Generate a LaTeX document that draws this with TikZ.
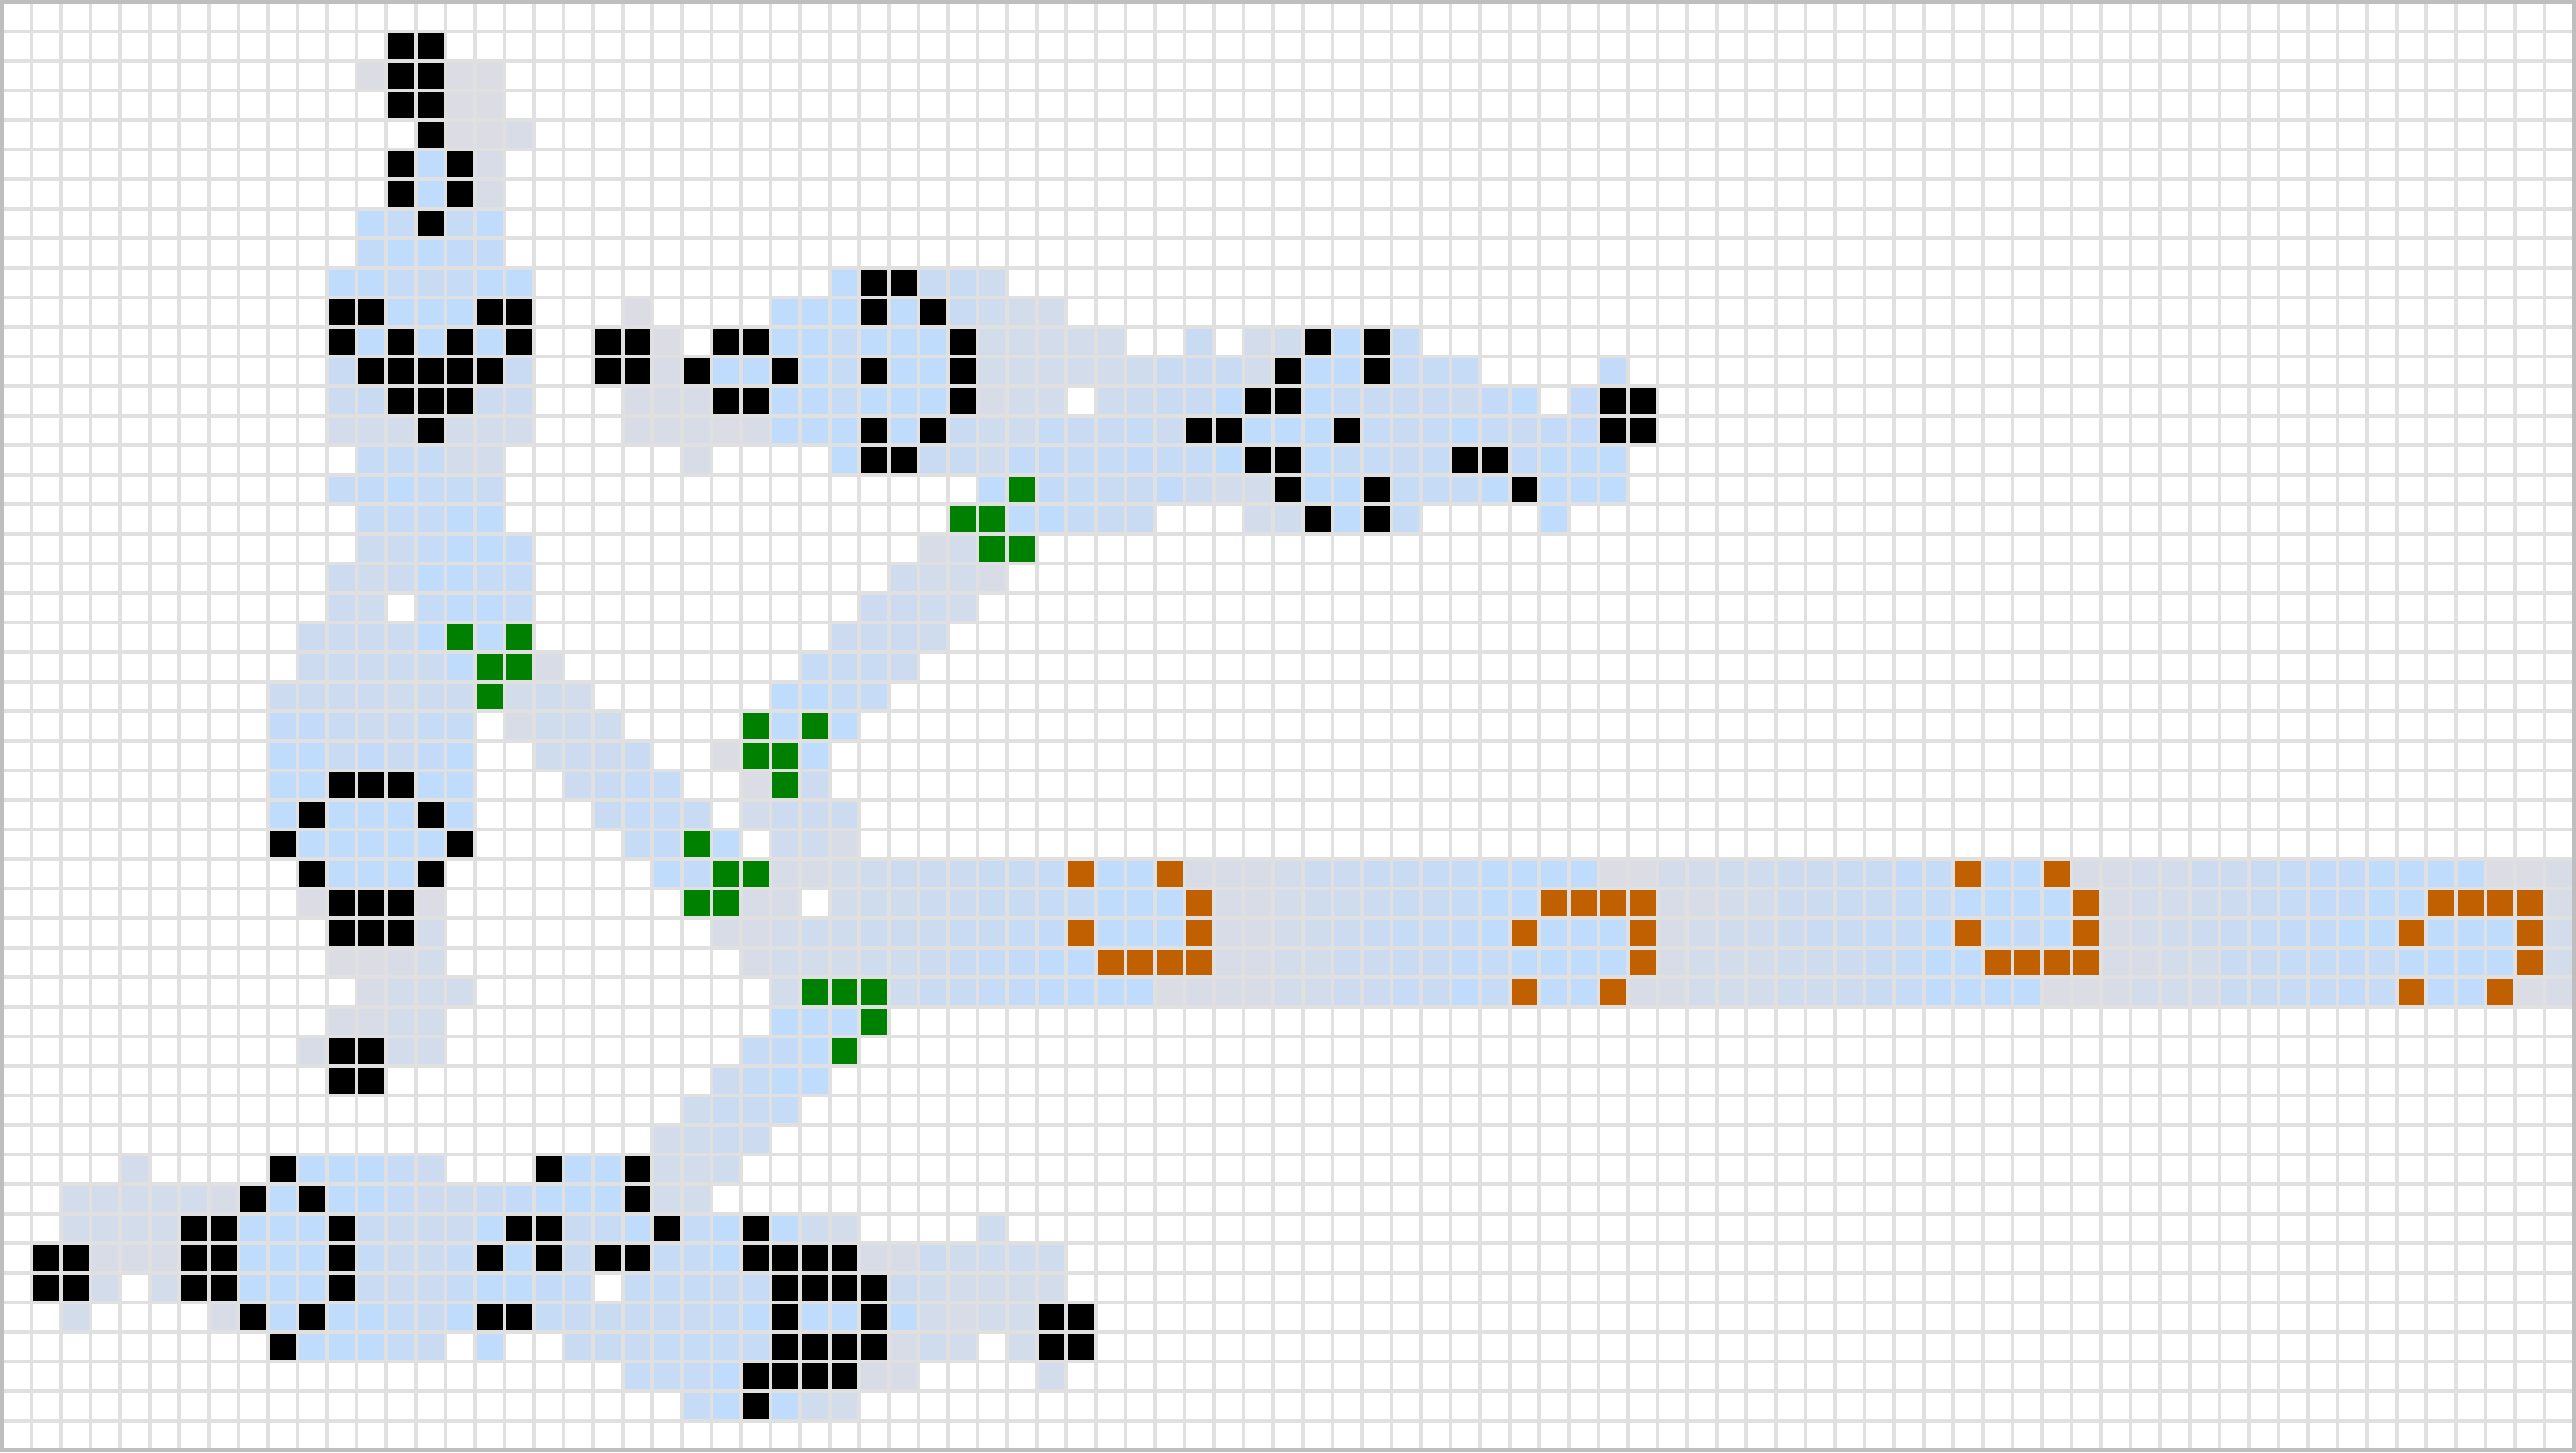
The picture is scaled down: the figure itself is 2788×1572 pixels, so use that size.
\documentclass[tikz,border=0pt]{standalone}
\definecolor{heatA}{HTML}{C0DCFC}
\definecolor{heatB}{HTML}{C3DBF9}
\definecolor{heatC}{HTML}{C6DBF6}
\definecolor{heatD}{HTML}{C9DBF3}
\definecolor{heatE}{HTML}{CCDBF0}
\definecolor{heatF}{HTML}{CFDCED}
\definecolor{heatG}{HTML}{D3DCEA}
\definecolor{heatH}{HTML}{D7DCE7}
\definecolor{heatI}{HTML}{DBDCE4}
\definecolor{gridgrey}{HTML}{E0E0E0}
\definecolor{edgegrey}{HTML}{BEBEBE}
\definecolor{cellgreen}{HTML}{008000}
\definecolor{cellorange}{HTML}{C06000}
\tikzset{
  cell1/.style={fill=heatA}, cell2/.style={fill=heatB}, cell3/.style={fill=heatC},
  cell4/.style={fill=heatD}, cell5/.style={fill=heatE}, cell6/.style={fill=heatF},
  cell7/.style={fill=heatG}, cell8/.style={fill=heatH}, cell9/.style={fill=heatI},
  cellK/.style={fill=black}, cellG/.style={fill=cellgreen}, cellO/.style={fill=cellorange},
  gridline/.style={draw=gridgrey, line width=4pt},
  gridedge/.style={draw=edgegrey, line width=4pt}
}
\newcount\cellcol
\def\PutCell#1{\if.#1\else
  \edef\px{\the\numexpr 4+32*\cellcol\relax}%
  \edef\py{\the\numexpr 1540-32*\cellrow\relax}%
  \fill[cell#1] (\px pt,\py pt) rectangle +(28pt,28pt);\fi}
\def\ScanCells#1{\ifx#1\relax\else\PutCell{#1}\advance\cellcol by 1 \expandafter\ScanCells\fi}
\def\R#1#2#3{\def\cellrow{#1}\cellcol=#2\relax\ScanCells#3\relax}
\begin{document}
\begin{tikzpicture}[x=1pt,y=1pt]
\useasboundingbox (0,0) rectangle (2788,1572);
\fill[white] (0,0) rectangle (2788,1572);
\R{1}{13}{KK}
\R{2}{12}{9KK99}
\R{3}{13}{KK99}
\R{4}{14}{K998}
\R{5}{13}{K1K8}
\R{6}{13}{K1K8}
\R{7}{12}{13K31}
\R{8}{12}{21122}
\R{9}{11}{1134311}
\R{9}{28}{1KK446}
\R{10}{11}{KK111KK}
\R{10}{21}{9}
\R{10}{26}{111K1K4677}
\R{11}{11}{K1K1K1K}
\R{11}{20}{KK9.KK113111K77777..4.76K1K3}
\R{12}{11}{4KKKKK4}
\R{12}{20}{KK8K11K13K11K7777764447K11K333....2}
\R{13}{11}{54KKK55}
\R{13}{21}{888KK113111K877.65441KK13444521.2KK}
\R{14}{11}{777K777}
\R{14}{21}{88898111K1K46634435KK111K34313422KK}
\R{15}{12}{33377}
\R{15}{23}{8}
\R{15}{28}{1KK44622332331KK13343KK2111}
\R{16}{11}{321334}
\R{16}{33}{1G23442577K11K3331K111}
\R{17}{12}{33311}
\R{17}{32}{GG11344}
\R{17}{42}{76K1K3}
\R{17}{52}{1}
\R{18}{12}{553112}
\R{18}{31}{87GG}
\R{19}{11}{5651133}
\R{19}{30}{6778}
\R{20}{11}{56.3113}
\R{20}{29}{5567}
\R{21}{10}{55551G1G}
\R{21}{28}{5556}
\R{22}{10}{555551GG8}
\R{22}{27}{3445}
\R{23}{9}{5555655G767}
\R{23}{26}{1133}
\R{24}{9}{2245533.8666}
\R{24}{25}{G1G1}
\R{25}{9}{1142421..6554}
\R{25}{24}{9GG1}
\R{26}{9}{11KKK11}
\R{26}{19}{5433}
\R{26}{25}{9G5}
\R{27}{9}{1K111K1}
\R{27}{20}{4334}
\R{27}{25}{7555}
\R{28}{9}{K11111K}
\R{28}{21}{32G1.668}
\R{29}{10}{K111K}
\R{29}{22}{12GG8876555443O11O88875544331111997766554423O11O88775543221111998}
\R{30}{10}{9KKK9}
\R{30}{23}{GG88.766554433111O88766544311OOOO88775544331111O87765432211OOOO8}
\R{31}{11}{KKK7}
\R{31}{24}{887665554432O111O8876543321O111O8766544331O121O8765432211O111O7}
\R{32}{11}{9987}
\R{32}{25}{877766543211OOOO88775544231111O87776654311OOOO88774433231111O7}
\R{33}{12}{8777}
\R{33}{26}{7GGG644321111988877553413O11O88777665431111998777443323O11O98}
\R{34}{11}{8877}
\R{34}{26}{111G}
\R{35}{10}{8KK77}
\R{35}{25}{321G}
\R{36}{11}{KK}
\R{36}{24}{5311}
\R{37}{23}{6443}
\R{38}{22}{7655}
\R{39}{4}{7}
\R{39}{9}{K11135}
\R{39}{18}{K11K776}
\R{40}{2}{777778K1K1135542111K77}
\R{41}{2}{7777KK111K45551KK431K31K167}
\R{41}{33}{6}
\R{42}{1}{KK888KK111K3553K1K4KK331KKKK8856666}
\R{43}{1}{KK7.7KK111K45531123.33343KKKK567777}
\R{44}{2}{7}
\R{44}{7}{8K1K11341KK34444431K11K17877KK}
\R{45}{9}{K11134.1..4443333KKKK867.7KK}
\R{46}{21}{3331KKKK88}
\R{46}{35}{7}
\R{47}{23}{31K167}
\foreach \k in {0,...,87} {\draw[gridline] ({2+32*\k},0) -- ({2+32*\k},1572);}
\foreach \k in {0,...,49} {\draw[gridline] (0,{2+32*\k}) -- (2788,{2+32*\k});}
\draw[gridedge] (2,2) rectangle (2786,1570);
\end{tikzpicture}
\end{document}
